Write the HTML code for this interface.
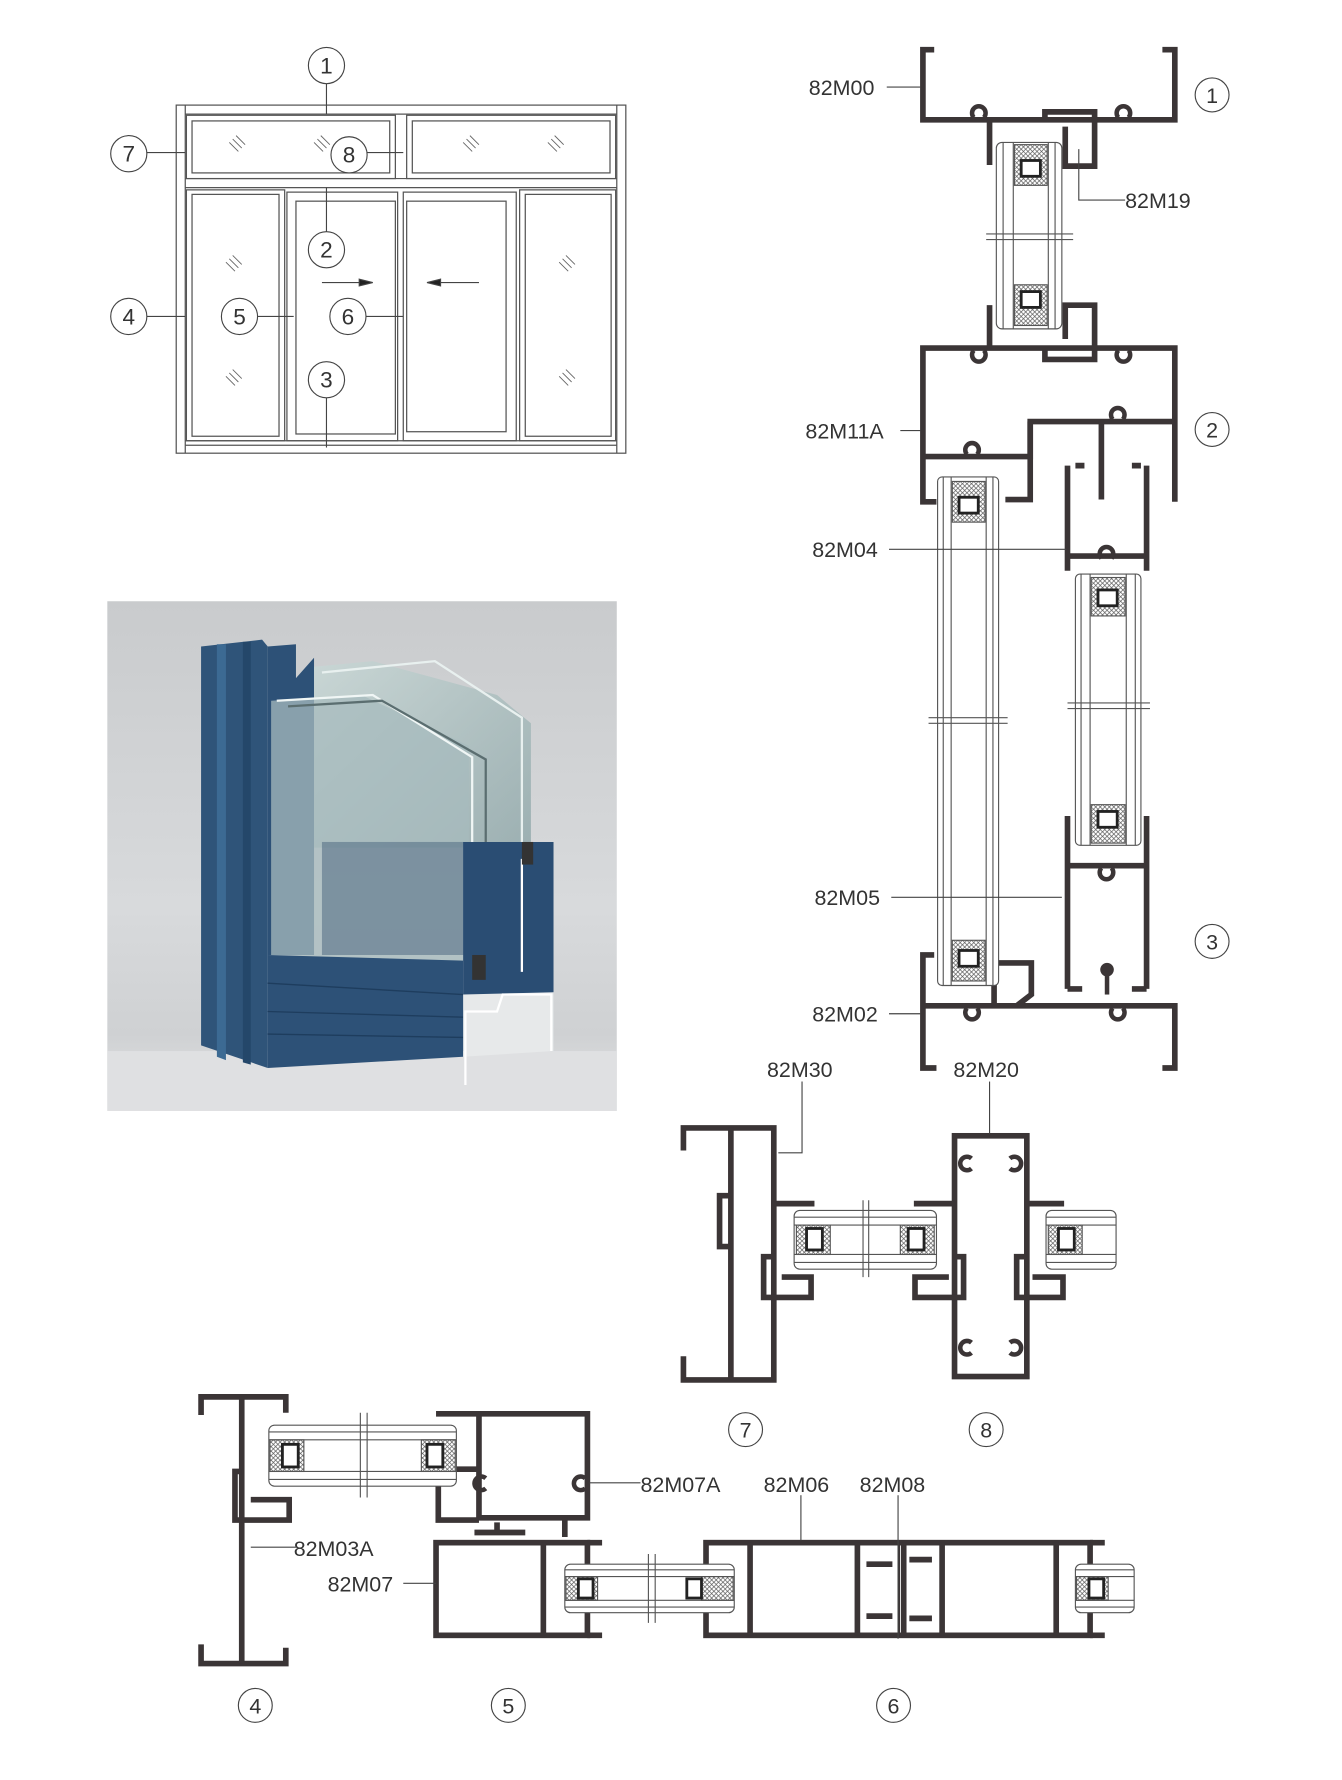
<!DOCTYPE html>
<html><head><meta charset="utf-8"><style>
html,body{margin:0;padding:0;background:#fff;}
svg{display:block;}
text{font-family:"Liberation Sans",sans-serif;fill:#333;}
</style></head><body>
<svg width="1342" height="1780" viewBox="0 0 1188 1575" preserveAspectRatio="none" xmlns="http://www.w3.org/2000/svg">
<defs>
<pattern id="hx" width="4" height="4" patternUnits="userSpaceOnUse">
<path d="M0,0L4,4M4,0L0,4" stroke="#555" stroke-width="0.6"/>
</pattern>
<linearGradient id="bg" x1="0" y1="0" x2="0" y2="1">
<stop offset="0" stop-color="#c9cbcd"/><stop offset="0.6" stop-color="#d8dadc"/><stop offset="0.85" stop-color="#cfd1d3"/><stop offset="1" stop-color="#e4e5e6"/>
</linearGradient>
<linearGradient id="gl" x1="0" y1="0" x2="1" y2="1">
<stop offset="0" stop-color="#c8d8d6" stop-opacity="0.8"/><stop offset="1" stop-color="#8ea6a8" stop-opacity="0.8"/>
</linearGradient>
</defs>

<!-- ===== Elevation top-left ===== -->
<g fill="none" stroke="#555" stroke-width="1.1">
<rect x="156" y="93" width="398" height="308"/>
<line x1="164" y1="93" x2="164" y2="401"/><line x1="546" y1="93" x2="546" y2="401"/>
<line x1="164" y1="101" x2="546" y2="101"/>
<rect x="165" y="102" width="185" height="56"/><rect x="170" y="107" width="175" height="46"/>
<rect x="360" y="102" width="185" height="56"/><rect x="365" y="107" width="175" height="46"/>
<line x1="164" y1="158" x2="546" y2="158"/><line x1="164" y1="166" x2="546" y2="166"/>
<rect x="165" y="168" width="87" height="222"/><rect x="170" y="172" width="77" height="214"/>
<rect x="254" y="170" width="98" height="220"/><rect x="262" y="178" width="88" height="206"/>
<rect x="357" y="170" width="100" height="220"/><rect x="360" y="178" width="88" height="204"/>
<rect x="460" y="168" width="85" height="222"/><rect x="465" y="172" width="76" height="214"/>
<line x1="164" y1="390" x2="546" y2="390"/><line x1="164" y1="394" x2="546" y2="394"/>
</g>
<g stroke="#666" stroke-width="0.8">
<path d="M203,126l8,8M206,123l8,8M209,120l8,8"/>
<path d="M278,126l8,8M281,123l8,8M284,120l8,8"/>
<path d="M410,126l8,8M413,123l8,8M416,120l8,8"/>
<path d="M485,126l8,8M488,123l8,8M491,120l8,8"/>
<path d="M200,232l8,8M203,229l8,8M206,226l8,8"/>
<path d="M200,333l8,8M203,330l8,8M206,327l8,8"/>
<path d="M495,232l8,8M498,229l8,8M501,226l8,8"/>
<path d="M495,333l8,8M498,330l8,8M501,327l8,8"/>
</g>
<g stroke="#444" stroke-width="1">
<line x1="289" y1="74" x2="289" y2="101"/>
<line x1="130" y1="135" x2="164" y2="135"/>
<line x1="324" y1="135" x2="357" y2="135"/>
<line x1="289" y1="166" x2="289" y2="206"/>
<line x1="130" y1="280" x2="164" y2="280"/>
<line x1="227" y1="280" x2="260" y2="280"/>
<line x1="324" y1="280" x2="357" y2="280"/>
<line x1="289" y1="352" x2="289" y2="396"/>
<line x1="285" y1="250" x2="322" y2="250"/><path d="M318,247L330,250L318,253Z" fill="#222"/>
<line x1="386" y1="250" x2="424" y2="250"/><path d="M390,247L378,250L390,253Z" fill="#222"/>
</g>
<g fill="#fff" stroke="#444" stroke-width="1">
<circle cx="289" cy="58" r="16"/><circle cx="114" cy="136" r="16"/><circle cx="309" cy="137" r="16"/>
<circle cx="289" cy="221" r="16"/><circle cx="114" cy="280" r="16"/><circle cx="212" cy="280" r="16"/>
<circle cx="308" cy="280" r="16"/><circle cx="289" cy="336" r="16"/>
</g>
<g font-size="20" text-anchor="middle">
<text x="289" y="65">1</text><text x="114" y="143">7</text><text x="309" y="144">8</text>
<text x="289" y="228">2</text><text x="114" y="287">4</text><text x="212" y="287">5</text>
<text x="308" y="287">6</text><text x="289" y="343">3</text>
</g>

<!-- ===== Photo ===== -->
<rect x="95" y="532" width="451" height="451" fill="url(#bg)"/>
<rect x="95" y="930" width="451" height="53" fill="#dfe0e2"/>
<polygon points="178,572 232,566 237,572 237,945 178,925" fill="#2f5479"/>
<polygon points="192,570 200,570 200,938 192,935" fill="#3c6a93"/>
<polygon points="215,568 222,568 222,942 215,940" fill="#24476a"/>
<polygon points="237,572 262,570 262,600 278,582 278,845 237,845" fill="#2d5177"/>
<polygon points="278,590 330,585 440,615 470,640 470,750 278,750" fill="url(#gl)"/>
<polygon points="240,620 320,615 415,660 415,850 240,850" fill="#a7bbbd" opacity="0.75"/>
<polyline points="285,595 385,585 462,635 462,750" fill="none" stroke="#e8f0ef" stroke-width="2"/>
<polyline points="245,620 330,615 418,670 418,850" fill="none" stroke="#f0f6f5" stroke-width="2"/>
<polyline points="255,625 338,620 430,672 430,850" fill="none" stroke="#5b6e70" stroke-width="2"/>
<rect x="285" y="745" width="130" height="100" fill="#4f6a82" opacity="0.55"/>
<polygon points="237,845 410,850 410,935 237,945" fill="#2d5177"/>
<g stroke="#1e3d5e" stroke-width="1.2"><line x1="237" y1="870" x2="410" y2="880"/><line x1="237" y1="895" x2="410" y2="900"/><line x1="237" y1="915" x2="410" y2="918"/></g>
<polygon points="410,745 490,745 490,930 410,930" fill="#2a4d73"/>
<polygon points="410,880 490,878 490,930 410,935" fill="#e7e9ea"/>
<g stroke="#fff" stroke-width="2" fill="none"><polyline points="412,960 412,895 440,895 445,880 488,880 488,930"/><polyline points="462,760 462,860"/></g>
<rect x="418" y="845" width="12" height="22" fill="#333"/><rect x="462" y="745" width="10" height="20" fill="#333"/>

<!-- ===== profiles common style ===== -->
<g fill="none" stroke="#3b3536" stroke-width="5" stroke-linejoin="miter">
<!-- 82M00 -->
<path d="M827,44H817V106H1040V44H1029"/>
<path d="M925,104V99H969V147H943V112"/>
<path d="M876,106V146"/>
<!-- 82M11A -->
<path d="M829,444H817V308H1040V444"/>
<path d="M817,404H912V373H1040"/>
<path d="M912,373V442H890"/>
<path d="M975,373V442"/>
<path d="M876,270V308"/>
<path d="M925,310V318H969V270H943V300"/>
<!-- sash right (82M05 / 82M04 right) -->
<path d="M945,412V505M1015,412V505M945,492H1015"/>
<path d="M952,412H960M1002,412H1010"/>
<path d="M945,722V875M1015,722V875M945,766H1015"/>
<path d="M945,875H958M1002,875H1015"/>
<!-- 82M02 -->
<path d="M827,845H817V945H829"/>
<path d="M817,890H1040V945H1029"/>
<path d="M880,890V852H913V880L900,890"/>
<!-- 82M30 -->
<path d="M605,1018V998H685V1221H605V1200"/>
<path d="M647,998V1221"/>
<path d="M647,1058H637V1103H647"/>
<path d="M687,1065H721"/>
<path d="M687,1112H676V1148H718V1130H692"/>
<!-- 82M20 -->
<rect x="845" y="1005" width="64" height="213"/>
<path d="M809,1065H845M909,1065H942"/>
<path d="M845,1112H853V1148H810V1130H840"/>
<path d="M909,1112H900V1148H941V1130H914"/>
<!-- 82M03A -->
<path d="M178,1252V1236H253V1250"/>
<path d="M178,1455V1472H253V1458"/>
<path d="M214,1236V1472"/>
<path d="M214,1302H208V1345H256V1327H222"/>
<!-- 82M07A -->
<path d="M386,1251H520V1343H424V1251"/>
<path d="M424,1300H388V1345H424"/>
<path d="M420,1356H465M440,1347V1356M500,1343V1360"/>
<!-- 82M07 -->
<rect x="386" y="1365" width="134" height="82"/>
<path d="M481,1365V1447"/>
<path d="M520,1365H533M520,1447H533"/>
<!-- 82M06 / 82M08 -->
<rect x="625" y="1365" width="340" height="82"/>
<path d="M664,1365V1447M759,1365V1447M800,1365V1447M834,1365V1447M935,1365V1447"/>
<path d="M965,1365H978M965,1447H978"/>
<path d="M767,1384H790M767,1430H790M805,1380H825M805,1432H825"/>
</g>
<path d="M796,1365V1447" stroke="#3b3536" stroke-width="1.5"/>

<!-- hooks (small C shapes) -->
<g fill="none" stroke="#3b3536" stroke-width="4">
<path d="M862,104a6,6 0 1 1 9,0M990,104a6,6 0 1 1 9,0"/>
<path d="M862,310a6,6 0 1 0 9,0M990,310a6,6 0 1 0 9,0"/>
<path d="M985,371a6,6 0 1 1 9,0"/>
<path d="M856,402a6,6 0 1 1 9,0"/>
<path d="M975,494a6,6 0 1 1 9,0M975,768a6,6 0 1 0 9,0"/>
<path d="M856,892a6,6 0 1 0 9,0M985,892a6,6 0 1 0 9,0"/>
<path d="M860,1025a6,6 0 1 0 0,9M894,1025a6,6 0 1 1 0,9"/>
<path d="M860,1188a6,6 0 1 0 0,9M894,1188a6,6 0 1 1 0,9"/>
<path d="M518,1308a6,6 0 1 0 0,9M430,1308a6,6 0 1 0 0,9"/>
</g>
<circle cx="980" cy="858" r="6" fill="#3b3536"/><path d="M980,860V880" stroke="#3b3536" stroke-width="4"/>

<!-- ===== glass units ===== -->
<g fill="#fff" stroke="#555" stroke-width="1">
<!-- top vertical -->
<rect x="882" y="126" width="58" height="165" rx="5"/>
<path d="M888,126V291M934,126V291M897,126V291M928,126V291"/>
<rect x="898" y="128" width="29" height="36" fill="url(#hx)"/><rect x="898" y="252" width="29" height="36" fill="url(#hx)"/>
<!-- left sash glass -->
<rect x="830" y="422" width="54" height="450" rx="4"/>
<path d="M835,422V872M879,422V872M842,422V872M873,422V872"/>
<rect x="843" y="426" width="29" height="36" fill="url(#hx)"/><rect x="843" y="832" width="29" height="36" fill="url(#hx)"/>
<!-- right sash glass -->
<rect x="952" y="508" width="58" height="240" rx="4"/>
<path d="M957,508V748M1005,508V748M965,508V748M997,508V748"/>
<rect x="966" y="511" width="30" height="34" fill="url(#hx)"/><rect x="966" y="712" width="30" height="34" fill="url(#hx)"/>
<!-- horizontal glass units -->
<rect x="703" y="1071" width="126" height="52" rx="5"/><path d="M703,1077H829M703,1117H829M703,1084H829M703,1110H829"/>
<rect x="705" y="1084" width="30" height="26" fill="url(#hx)"/><rect x="797" y="1084" width="30" height="26" fill="url(#hx)"/>
<rect x="926" y="1071" width="62" height="52" rx="5"/><path d="M926,1077H988M926,1117H988M926,1084H988M926,1110H988"/>
<rect x="928" y="1084" width="30" height="26" fill="url(#hx)"/>
<rect x="238" y="1261" width="166" height="54" rx="5"/><path d="M238,1267H404M238,1309H404M238,1274H404M238,1302H404"/>
<rect x="239" y="1274" width="30" height="28" fill="url(#hx)"/><rect x="373" y="1274" width="30" height="28" fill="url(#hx)"/>
<rect x="500" y="1384" width="150" height="43" rx="5"/><path d="M500,1389H650M500,1422H650M500,1395H650M500,1416H650"/>
<rect x="501" y="1395" width="28" height="21" fill="url(#hx)"/><rect x="621" y="1395" width="28" height="21" fill="url(#hx)"/>
<rect x="952" y="1384" width="52" height="43" rx="5"/><path d="M952,1389H1004M952,1422H1004M952,1395H1004M952,1416H1004"/>
<rect x="953" y="1395" width="28" height="21" fill="url(#hx)"/>
</g>
<!-- spacer inner C shapes -->
<g fill="#fff" stroke="#222" stroke-width="2.5">
<rect x="904" y="142" width="17" height="14"/><rect x="904" y="258" width="17" height="14"/>
<rect x="849" y="440" width="17" height="14"/><rect x="849" y="841" width="17" height="14"/>
<rect x="972" y="522" width="17" height="14"/><rect x="972" y="718" width="17" height="14"/>
<rect x="714" y="1087" width="14" height="19"/><rect x="804" y="1087" width="14" height="19"/><rect x="937" y="1087" width="14" height="19"/>
<rect x="250" y="1278" width="14" height="20"/><rect x="378" y="1278" width="14" height="20"/>
<rect x="512" y="1397" width="13" height="17"/><rect x="608" y="1397" width="13" height="17"/><rect x="964" y="1397" width="13" height="17"/>
</g>
<!-- glass break marks -->
<g stroke="#555" stroke-width="1">
<path d="M873,207H950M873,212H950"/>
<path d="M822,635H892M822,640H892"/>
<path d="M945,622H1018M945,627H1018"/>
<path d="M764,1062V1130M769,1062V1130"/>
<path d="M319,1250V1325M325,1250V1325"/>
<path d="M574,1375V1436M580,1375V1436"/>
</g>

<!-- leaders -->
<g stroke="#444" stroke-width="1" fill="none">
<path d="M785,77H815"/>
<path d="M955,132V177H996"/>
<path d="M797,381H815"/>
<path d="M787,486H944"/>
<path d="M789,794H940"/>
<path d="M787,897H815"/>
<path d="M710,957V1020H689"/>
<path d="M876,957V1003"/>
<path d="M522,1312H567"/>
<path d="M709,1323V1363"/>
<path d="M795,1323V1450"/>
<path d="M222,1369H262"/>
<path d="M357,1401H386"/>
</g>
<g font-size="19">
<text x="716" y="84">82M00</text>
<text x="996" y="184">82M19</text>
<text x="713" y="388">82M11A</text>
<text x="719" y="493">82M04</text>
<text x="721" y="801">82M05</text>
<text x="719" y="904">82M02</text>
<text x="679" y="953">82M30</text>
<text x="844" y="953">82M20</text>
<text x="567" y="1320">82M07A</text>
<text x="676" y="1320">82M06</text>
<text x="761" y="1320">82M08</text>
<text x="260" y="1377">82M03A</text>
<text x="290" y="1408">82M07</text>
</g>
<g fill="#fff" stroke="#444" stroke-width="1">
<circle cx="1073" cy="84" r="15"/><circle cx="1073" cy="380" r="15"/><circle cx="1073" cy="833" r="15"/>
<circle cx="660" cy="1265" r="15"/><circle cx="873" cy="1265" r="15"/>
<circle cx="226" cy="1509" r="15"/><circle cx="450" cy="1509" r="15"/><circle cx="791" cy="1509" r="15"/>
</g>
<g font-size="19" text-anchor="middle">
<text x="1073" y="91">1</text><text x="1073" y="387">2</text><text x="1073" y="840">3</text>
<text x="660" y="1272">7</text><text x="873" y="1272">8</text>
<text x="226" y="1516">4</text><text x="450" y="1516">5</text><text x="791" y="1516">6</text>
</g>
</svg>
</body></html>
